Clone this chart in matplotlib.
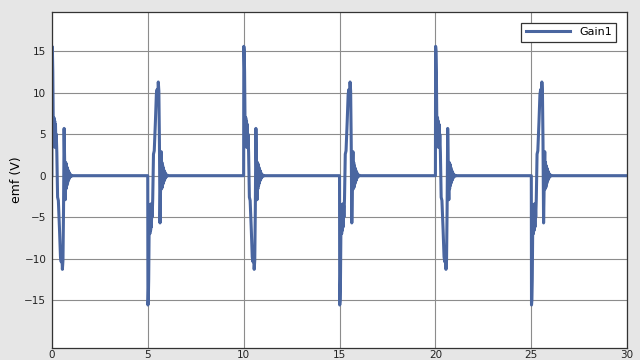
import numpy as np
import matplotlib.pyplot as plt

# one pulse shape (time after event start, volts) for positive polarity
pulse_t = [0.0, 0.01, 0.03, 0.05, 0.07, 0.09, 0.11, 0.13, 0.15, 0.17, 0.19, 0.21, 0.23,
           0.26, 0.3, 0.34, 0.4, 0.45, 0.49, 0.52, 0.55, 0.58, 0.61, 0.64, 0.67,
           0.7, 0.72, 0.74, 0.76, 0.78, 0.8, 0.82, 0.84, 0.86, 0.88, 0.9, 0.93,
           0.96, 1.0, 1.04, 1.1]
pulse_v = [0.0, 15.6, 15.0, 12.5, 7.2, 3.5, 7.0, 3.8, 6.6, 3.4, 6.2, 3.6, 5.0,
           2.8, -2.6, -3.0, -6.5, -9.8, -10.4, -9.2, -11.3, -10.2, -4.0, 5.7, 1.5,
           -2.9, 1.6, -1.6, 1.4, -1.2, 1.0, -0.9, 0.7, -0.6, 0.5, -0.4, 0.25,
           -0.15, 0.08, -0.04, 0.0]

# event start times and polarity
event_t = [0.0, 5.0, 10.0, 15.0, 20.0, 25.0]
event_sign = [1, -1, 1, -1, 1, -1]

t_end = 30.0

t_all = []
v_all = []
for t0, s in zip(event_t, event_sign):
    t_all.extend([t0 + dt for dt in pulse_t])
    v_all.extend([s * v for v in pulse_v])
t_all.append(t_end)
v_all.append(0.0)

fig = plt.figure(figsize=(6.4, 3.6), dpi=100, facecolor="#e6e6e6")
ax = fig.add_axes([0.081, 0.033, 0.899, 0.935])
ax.set_facecolor("white")

ax.plot(t_all, v_all, color="#4a66a0", linewidth=2.2, label="Gain1")

ax.set_xlim(0, 30)
ax.set_ylim(-20.8, 19.8)
ax.set_xticks([0, 5, 10, 15, 20, 25, 30])
ax.set_yticks([-15, -10, -5, 0, 5, 10, 15])
ax.grid(True, color="#8c8c8c", linewidth=0.8)
ax.set_axisbelow(True)
ax.tick_params(direction="in", length=0, labelsize=7.5, colors="#222222")
ax.tick_params(axis="x", pad=1)
ax.tick_params(axis="y", pad=4)
for sp in ax.spines.values():
    sp.set_color("#333333")
    sp.set_linewidth(0.9)

ax.set_ylabel("emf (V)", fontsize=9, labelpad=1)

leg = ax.legend(loc="upper right", fontsize=8, fancybox=False, framealpha=1,
                edgecolor="#333333", handlelength=4.0, borderaxespad=1.0)
leg.get_frame().set_linewidth(0.9)

fig.savefig("out.png", dpi=100, facecolor=fig.get_facecolor())
